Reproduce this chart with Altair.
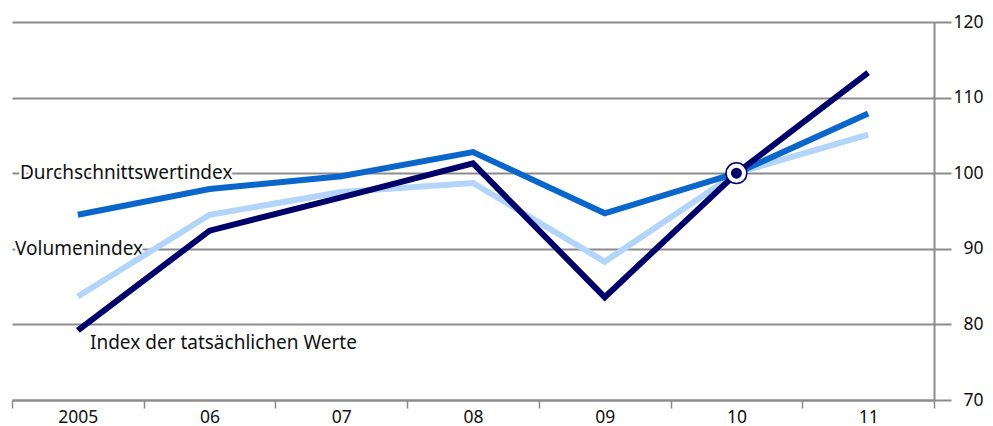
import altair as alt
import pandas as pd

years = ["2005", "06", "07", "08", "09", "10", "11"]
tatsaechlich = [79.2, 92.4, 96.8, 101.3, 83.6, 100.0, 113.3]
durchschnitt = [94.5, 97.9, 99.6, 102.8, 94.7, 100.0, 107.9]
volumen = [83.7, 94.5, 97.5, 98.7, 88.3, 100.0, 105.1]
series_names = ["Index der tatsächlichen Werte", "Durchschnittswertindex", "Volumenindex"]
series_colors = ["#00006b", "#0b66cc", "#b3d5fa"]

rows = []
for name, vals in zip(series_names, [tatsaechlich, durchschnitt, volumen]):
    for i, (y, v) in enumerate(zip(years, vals)):
        rows.append({"year": y, "value": v, "series": name, "order": i})
df = pd.DataFrame(rows)

FONT = "Noto Sans"
GRAY = "#8c8c8c"

xenc = alt.X("year:N", sort=years, title=None,
             scale=alt.Scale(paddingInner=0, paddingOuter=0),
             axis=alt.Axis(tickBand="extent", domainColor=GRAY, tickColor=GRAY,
                           domainWidth=2, tickWidth=1.5, tickSize=8, labelAngle=0,
                           labelFont=FONT, labelFontSize=17.5, labelColor="#111",
                           labelBaseline="alphabetic", labelPadding=14, grid=False))
yenc = alt.Y("value:Q", title=None,
             scale=alt.Scale(domain=[70, 120], nice=False, zero=False),
             axis=alt.Axis(orient="right", values=[70, 80, 90, 100, 110, 120],
                           grid=True, gridColor=GRAY, gridWidth=2,
                           domainColor=GRAY, domainWidth=2, tickColor=GRAY,
                           tickWidth=2, tickSize=17, labelAlign="right",
                           labelPadding=32, labelFont=FONT, labelFontSize=17.5,
                           labelColor="#111"))

def line_for(name, color):
    return alt.Chart(df[df.series == name]).mark_line(
        strokeWidth=6, strokeCap="butt", color=color).encode(
        x=alt.X("year:N", sort=years), y="value:Q", order="order:Q")

l_vol = line_for("Volumenindex", series_colors[2])
l_dur = line_for("Durchschnittswertindex", series_colors[1])
l_tat = line_for("Index der tatsächlichen Werte", series_colors[0])

base_axes = alt.Chart(df).mark_line(opacity=0).encode(x=xenc, y=yenc)

marker_df = pd.DataFrame({"year": ["10"], "value": [100.0]})
m_outer = alt.Chart(marker_df).mark_point(
    filled=True, fill="white", stroke="#00006b", strokeWidth=1.5, size=430, opacity=1
).encode(x=alt.X("year:N", sort=years), y="value:Q")
m_inner = alt.Chart(marker_df).mark_point(
    filled=True, color="#00006b", size=120, opacity=1
).encode(x=alt.X("year:N", sort=years), y="value:Q")

label_df = pd.DataFrame({
    "text": ["Durchschnittswertindex", "Volumenindex", "Index der tatsächlichen Werte"],
    "value": [100.0, 90.0, 77.6],
    "px": [8, 3, 78],
})
halo = alt.Chart(label_df).mark_text(
    align="left", baseline="middle", font=FONT, fontSize=19,
    stroke="white", strokeWidth=5, fill="white"
).encode(x=alt.X("px:Q", scale=None, axis=None), y="value:Q", text="text:N")
labels = alt.Chart(label_df).mark_text(
    align="left", baseline="middle", font=FONT, fontSize=19, color="#111"
).encode(x=alt.X("px:Q", scale=None, axis=None), y="value:Q", text="text:N")

chart = alt.layer(base_axes, halo, labels, l_vol, l_dur, l_tat, m_outer, m_inner).properties(
    width=922, height=378,
    background="white",
    autosize=alt.AutoSizeParams(type="none"),
    padding={"left": 4, "top": 14, "right": 51, "bottom": 26},
).configure_view(stroke=None)

chart.save("out.html", embed_options={"renderer": "svg", "actions": False})
